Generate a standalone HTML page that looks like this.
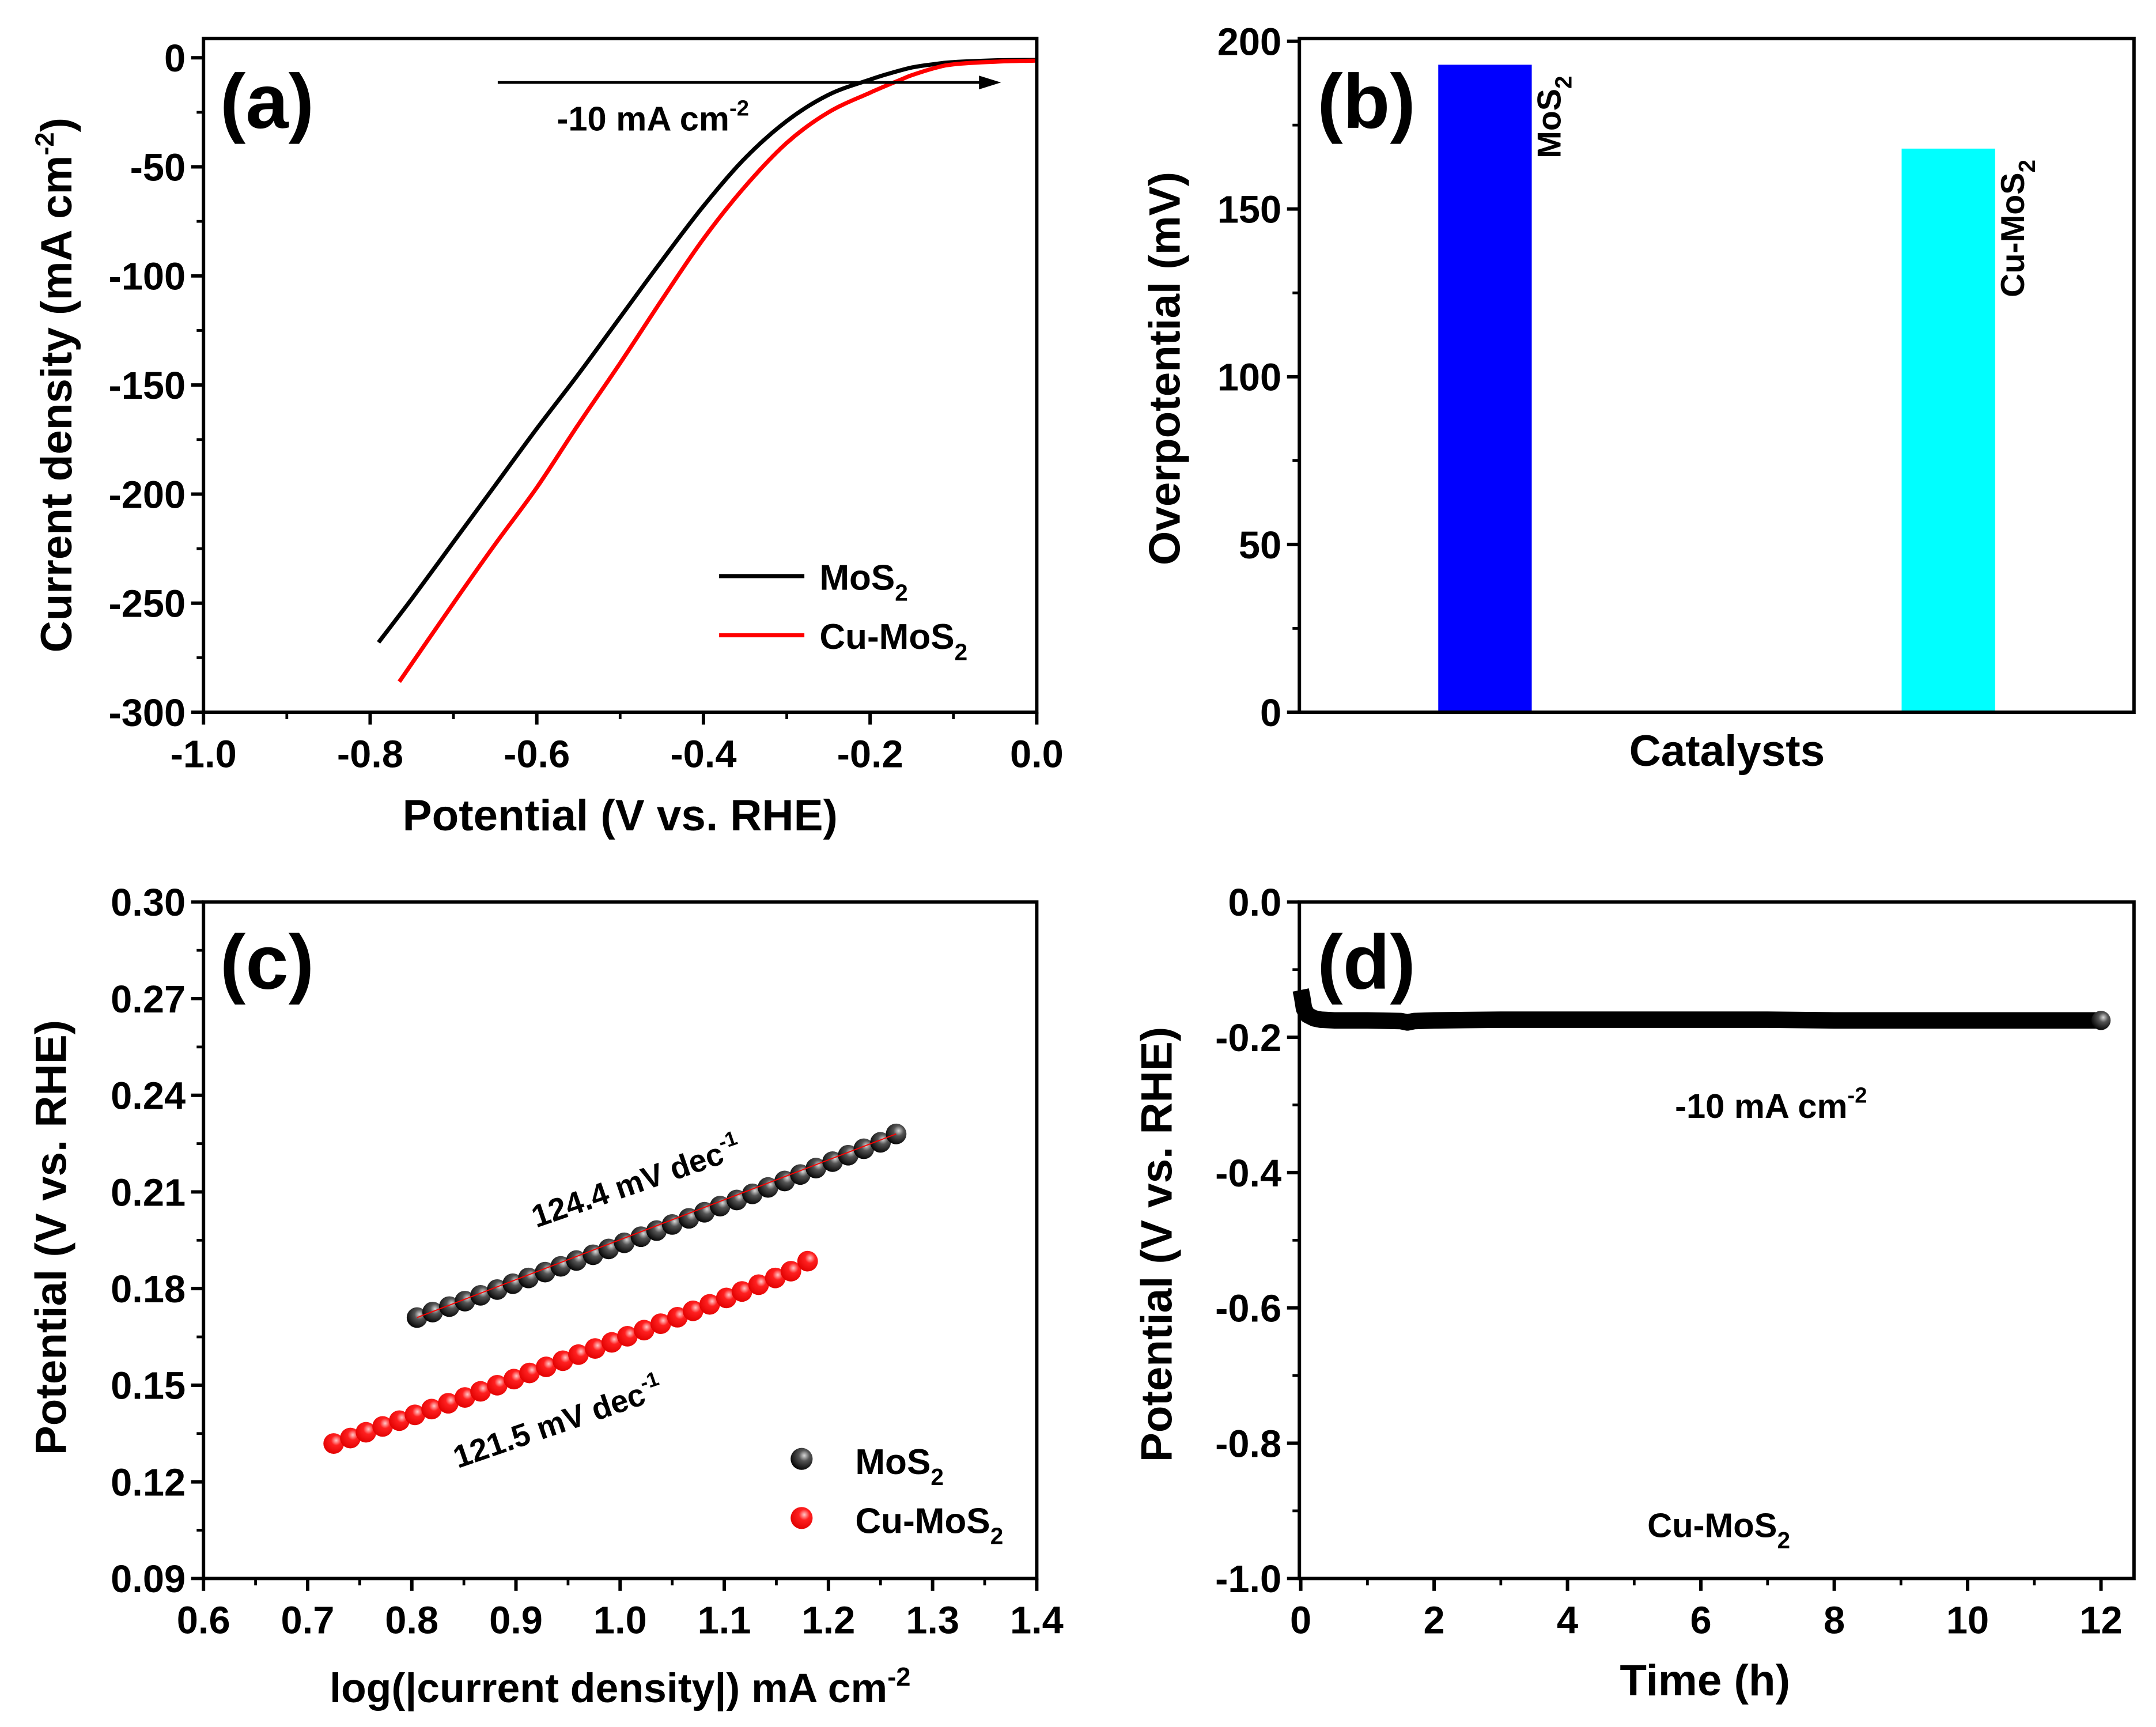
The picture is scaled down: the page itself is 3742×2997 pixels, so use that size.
<!DOCTYPE html>
<html><head><meta charset="utf-8"><style>
html,body{margin:0;padding:0;background:#fff;}
svg{display:block;font-family:"Liberation Sans",Arial,sans-serif;font-weight:bold;}
</style></head><body>
<svg id="fig" xmlns="http://www.w3.org/2000/svg" width="3742" height="2997" viewBox="0 0 1568 1256" preserveAspectRatio="none">
<defs>
<radialGradient id="gBlack" cx="0.62" cy="0.35" r="0.7"><stop offset="0" stop-color="#d8d8d8"/><stop offset="0.35" stop-color="#555"/><stop offset="1" stop-color="#000"/></radialGradient>
<radialGradient id="gRed" cx="0.62" cy="0.35" r="0.7"><stop offset="0" stop-color="#ffc8c8"/><stop offset="0.35" stop-color="#ff2020"/><stop offset="1" stop-color="#e00000"/></radialGradient>
</defs>
<rect width="1568" height="1256" fill="#fff"/>
</svg>
<script>
// ---- Panel (a) data ----
const aMosV = [-0.79,-0.75,-0.7,-0.65,-0.6,-0.55,-0.5,-0.45,-0.4,-0.35,-0.3,-0.25,-0.2,-0.175,-0.15,-0.125,-0.1,-0.05,0];
const aMosJ = [-268,-248,-222,-196,-170,-145,-119,-93,-68,-46,-29,-17,-10,-7,-4.5,-3,-2,-1.2,-1];
const aCuV = [-0.765,-0.7,-0.65,-0.6,-0.55,-0.5,-0.45,-0.4,-0.35,-0.3,-0.25,-0.2,-0.163,-0.15,-0.125,-0.1,-0.05,0];
const aCuJ = [-286,-250,-223,-197,-168,-140,-111,-83,-59,-39,-25,-16,-10,-8,-5,-3,-1.8,-1.3];
const aXTicks = [-1.0,-0.8,-0.6,-0.4,-0.2,0.0];
const aYTicks = [0,-50,-100,-150,-200,-250,-300];
// ---- Panel (b) data ----
const bCats = ["MoS2","Cu-MoS2"];
const bVals = [193,168];
const bYTicks = [0,50,100,150,200];
// ---- Panel (c) data ----
const cMosX = [0.805,0.820,0.836,0.851,0.866,0.882,0.897,0.912,0.928,0.943,0.958,0.974,0.989,1.004,1.020,1.035,1.050,1.066,1.081,1.096,1.112,1.127,1.142,1.158,1.173,1.188,1.204,1.219,1.234,1.250,1.265];
const cMosY = [0.1710,0.1727,0.1744,0.1761,0.1779,0.1797,0.1815,0.1833,0.1851,0.1869,0.1887,0.1905,0.1923,0.1942,0.1961,0.1980,0.1999,0.2018,0.2037,0.2056,0.2075,0.2094,0.2114,0.2134,0.2154,0.2174,0.2194,0.2214,0.2234,0.2254,0.2280];
const cCuX = [0.725,0.741,0.756,0.772,0.788,0.803,0.819,0.835,0.851,0.866,0.882,0.898,0.913,0.929,0.945,0.960,0.976,0.992,1.007,1.023,1.039,1.055,1.070,1.086,1.102,1.117,1.133,1.149,1.164,1.180];
const cCuY = [0.1319,0.1336,0.1354,0.1372,0.1390,0.1408,0.1426,0.1444,0.1462,0.1481,0.1500,0.1519,0.1538,0.1557,0.1576,0.1595,0.1614,0.1633,0.1652,0.1671,0.1691,0.1711,0.1731,0.1751,0.1771,0.1791,0.1812,0.1833,0.1854,0.1885];
const cXTicks = [0.6,0.7,0.8,0.9,1.0,1.1,1.2,1.3,1.4];
const cYTicks = [0.30,0.27,0.24,0.21,0.18,0.15,0.12,0.09];
// ---- Panel (d) data ----
const dT = [0,0.02,0.05,0.1,0.2,0.3,0.5,1,1.5,1.6,1.7,2,3,4,5,6,7,8,9,10,11,12];
const dV = [-0.13,-0.14,-0.158,-0.167,-0.172,-0.174,-0.175,-0.175,-0.176,-0.178,-0.176,-0.175,-0.174,-0.174,-0.174,-0.174,-0.174,-0.175,-0.175,-0.175,-0.175,-0.175];
const dXTicks = [0,2,4,6,8,10,12];
const dYTicks = [0.0,-0.2,-0.4,-0.6,-0.8,-1.0];

const svg = document.getElementById('fig');
const NS = 'http://www.w3.org/2000/svg';
const TICK=28, TITLE=32;
function el(tag, attrs, parent){ const e=document.createElementNS(NS,tag); for(const k in attrs) e.setAttribute(k,attrs[k]); (parent||svg).appendChild(e); return e; }
function lin(d0,d1,r0,r1){ return v => r0 + (v-d0)/(d1-d0)*(r1-r0); }
function txt(x,y,s,size,anchor,parent,rot){ const t=el('text',{x:x,y:y,'font-size':size,'text-anchor':anchor||'middle',fill:'#000'},parent); if(rot!==undefined) t.setAttribute('transform','rotate('+rot+' '+x+' '+y+')'); t.innerHTML=s; return t; }
function frame(g,L,R,T,B){ el('rect',{x:L,y:T,width:R-L,height:B-T,fill:'none',stroke:'#000','stroke-width':2.5},g); }
function fmt(v,d){ return v.toFixed(d); }
function yAxis(g,ticks,sy,L,dec,minorStep,lo,hi){
  ticks.forEach(v=>{ const y=sy(v); el('line',{x1:L-9,x2:L,y1:y,y2:y,stroke:'#000','stroke-width':2.5},g);
    const t=txt(L-13,y+10,fmt(v,dec),TICK,'end',g);   });
  if(minorStep){ for(let v=lo; v<=hi+1e-9; v+=minorStep){ const y=sy(v); el('line',{x1:L-5,x2:L,y1:y,y2:y,stroke:'#000','stroke-width':2},g);} }
}
function xAxis(g,ticks,sx,B,dec,minorStep,lo,hi){
  ticks.forEach(v=>{ const x=sx(v); el('line',{x1:x,x2:x,y1:B,y2:B+9,stroke:'#000','stroke-width':2.5},g);
    const t=txt(x,B+40,fmt(v,dec),TICK,'middle',g);   });
  if(minorStep){ for(let v=lo; v<=hi+1e-9; v+=minorStep){ const x=sx(v); el('line',{x1:x,x2:x,y1:B,y2:B+5,stroke:'#000','stroke-width':2},g);} }
}
function path(xs,ys,sx,sy){ return xs.map((v,i)=>(i?'L':'M')+sx(v).toFixed(1)+' '+sy(ys[i]).toFixed(1)).join(' '); }
function smooth(xs,ys,sx,sy){
  const P=xs.map((v,i)=>[sx(v),sy(ys[i])]);
  let d='M'+P[0][0].toFixed(1)+' '+P[0][1].toFixed(1);
  for(let i=0;i<P.length-1;i++){
    const p0=P[Math.max(0,i-1)],p1=P[i],p2=P[i+1],p3=P[Math.min(P.length-1,i+2)];
    const c1=[p1[0]+(p2[0]-p0[0])/6,p1[1]+(p2[1]-p0[1])/6], c2=[p2[0]-(p3[0]-p1[0])/6,p2[1]-(p3[1]-p1[1])/6];
    d+=' C'+c1.map(n=>n.toFixed(1)).join(' ')+' '+c2.map(n=>n.toFixed(1)).join(' ')+' '+p2[0].toFixed(1)+' '+p2[1].toFixed(1);
  }
  return d;
}

// ===== Panel a =====
{
 const g=el('g',{});  
 const L=148,R=754,T=28,B=518;
 const sx=lin(-1,0,L,R), sy=lin(0,-300,42,518);
 yAxis(g,aYTicks,sy,L,0,25,-300,0);
 xAxis(g,aXTicks,sx,B,1,0.1,-1,0);
 let p=el('path',{d:smooth(aMosV,aMosJ,sx,sy),fill:'none',stroke:'#000','stroke-width':3},g);  
 p=el('path',{d:smooth(aCuV,aCuJ,sx,sy),fill:'none',stroke:'#ff0000','stroke-width':3},g);  
 frame(g,L,R,T,B);
 const ar=el('g',{},g);  
 el('line',{x1:362,x2:716,y1:60,y2:60,stroke:'#000','stroke-width':2},ar);
 el('path',{d:'M728 60 L712 55 L712 65 Z',fill:'#000'},ar);
 let t=txt(405,95,'-10 mA cm<tspan dy="-11" font-size="16">-2</tspan>',25,'start',g);  
 t=txt(160,93,'(a)',56,'start',g);  
 t=txt(451,604,'Potential (V vs. RHE)',TITLE,'middle',g);  
 t=txt(52,280,'Current density (mA cm<tspan dy="-13" font-size="19">-2</tspan><tspan dy="13">)</tspan>',TITLE,'middle',g,-90);  
 const lg=el('g',{},g);  
 el('line',{x1:523,x2:585,y1:419,y2:419,stroke:'#000','stroke-width':3},lg);
 el('line',{x1:523,x2:585,y1:462,y2:462,stroke:'#ff0000','stroke-width':3},lg);
 txt(596,429,'MoS<tspan dy="8" font-size="17">2</tspan>',26,'start',lg);
 txt(596,472,'Cu-MoS<tspan dy="8" font-size="17">2</tspan>',26,'start',lg);
}
// ===== Panel b =====
{
 const g=el('g',{});  
 const L=945,R=1552,T=28,B=518;
 const sy=lin(0,200,518,30);
 const bx=[1080,1417], bw=68;
 yAxis(g,bYTicks,sy,L,0,25,0,200);
 const colors=['#0000ff','#00ffff'];
 const labs=['MoS<tspan dy="8" font-size="17">2</tspan>','Cu-MoS<tspan dy="8" font-size="17">2</tspan>'];
 bVals.forEach((v,i)=>{
  const r=el('rect',{x:bx[i]-bw/2,y:sy(v),width:bw,height:sy(0)-sy(v),fill:colors[i]},g);
  
  
  const lx=bx[i]+bw/2+21, ly=sy(v)+8;
  const t=txt(lx,ly,labs[i],24,'end',g,-90);
  
  
 });
 frame(g,L,R,T,B);
 let t=txt(958,93,'(b)',56,'start',g);  
 t=txt(1256,557,'Catalysts',TITLE,'middle',g);  
 t=txt(858,268,'Overpotential (mV)',TITLE,'middle',g,-90);  
}
// ===== Panel c =====
{
 const g=el('g',{});  
 const L=148,R=754,T=656,B=1148;
 const sx=lin(0.6,1.4,L,R), sy=lin(0.30,0.09,656,1148);
 yAxis(g,cYTicks,sy,L,2,0.015,0.09,0.30);
 xAxis(g,cXTicks,sx,B,1,0.05,0.6,1.4);
 frame(g,L,R,T,B);
 const s1=el('g',{},g);  
 cMosX.forEach((v,i)=>{ const c=el('circle',{cx:sx(v),cy:sy(cMosY[i]),r:7.5,fill:'url(#gBlack)'},s1);
  
   });
 el('line',{x1:sx(cMosX[0]),y1:sy(cMosY[0]),x2:sx(cMosX[cMosX.length-1]),y2:sy(cMosY[cMosY.length-1]),stroke:'#ff0000','stroke-width':0.8},s1);
 const s2=el('g',{},g);  
 cCuX.forEach((v,i)=>{ const c=el('circle',{cx:sx(v),cy:sy(cCuY[i]),r:7.5,fill:'url(#gRed)'},s2);
  
   });
 let t=txt(160,719,'(c)',56,'start',g);  
 t=txt(390,893,'124.4 mV dec<tspan dy="-10" font-size="15">-1</tspan>',23,'start',g,-19);  
 t=txt(333,1068,'121.5 mV dec<tspan dy="-10" font-size="15">-1</tspan>',23,'start',g,-19);  
 t=txt(451,1238,'log(|current density|) mA cm<tspan dy="-12" font-size="19">-2</tspan>',30,'middle',g);  
 t=txt(48,900,'Potential (V vs. RHE)',TITLE,'middle',g,-90);  
 const lg=el('g',{},g);  
 el('circle',{cx:583,cy:1061,r:8,fill:'url(#gBlack)'},lg);
 el('circle',{cx:583,cy:1104,r:8,fill:'url(#gRed)'},lg);
 txt(622,1072,'MoS<tspan dy="8" font-size="17">2</tspan>',26,'start',lg);
 txt(622,1115,'Cu-MoS<tspan dy="8" font-size="17">2</tspan>',26,'start',lg);
}
// ===== Panel d =====
{
 const g=el('g',{});  
 const L=945,R=1552,T=656,B=1148;
 const sx=lin(0,12,946,1528), sy=lin(0,-1,656,1148);
 yAxis(g,dYTicks,sy,L,1,0.1,-1,0);
 xAxis(g,dXTicks,sx,B,0,1,0,12);
 let p=el('path',{d:path(dT,dV,sx,sy),fill:'none',stroke:'#000','stroke-width':12,'stroke-linejoin':'round'},g);
  
 const n=dT.length-1;
 el('circle',{cx:sx(dT[n]),cy:sy(dV[n]),r:7,fill:'url(#gBlack)'},g);
 frame(g,L,R,T,B);
 let t=txt(958,719,'(d)',56,'start',g);  
 t=txt(1288,813,'-10 mA cm<tspan dy="-11" font-size="16">-2</tspan>',25,'middle',g);  
 t=txt(1250,1118,'Cu-MoS<tspan dy="8" font-size="17">2</tspan>',25,'middle',g);  
 t=txt(1240,1233,'Time (h)',TITLE,'middle',g);  
 t=txt(852,905,'Potential (V vs. RHE)',TITLE,'middle',g,-90);  
}
</script>
</body></html>
